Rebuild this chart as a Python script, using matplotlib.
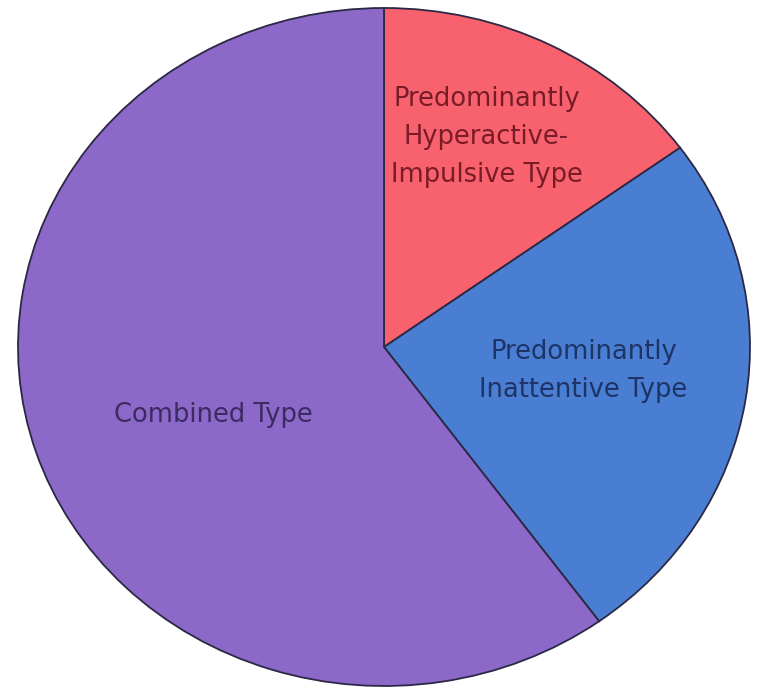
import matplotlib.pyplot as plt

labels = ['Predominantly\nHyperactive-\nImpulsive Type',
          'Predominantly\nInattentive Type',
          'Combined Type']
shares = [15, 25, 60]
colors = ['#F7626E', '#4A7ED2', '#8C68C8']
text_colors = ['#7A1B28', '#1E3466', '#3A2B63']
# label centres in pie units
label_pos = [(0.28, 0.62), (0.545, -0.07), (-0.465, -0.2)]

fig = plt.figure(figsize=(7.57, 6.88), dpi=100)
ax = fig.add_axes([18 / 757, 2 / 688, 732 / 757, 678 / 688])

wedges, texts = ax.pie(shares, labels=labels, colors=colors, startangle=90,
                       counterclock=False, labeldistance=0.5,
                       wedgeprops={'edgecolor': '#2B2845', 'linewidth': 1.3})
for t, c, p in zip(texts, text_colors, label_pos):
    t.set_position(p)
    t.set_ha('center')
    t.set_va('center')
    t.set_color(c)
    t.set_fontsize(18.5)
    t.set_family('DejaVu Sans')
    t.set_linespacing(1.6)

ax.set_aspect('auto')
ax.set_xlim(-1, 1)
ax.set_ylim(-1, 1)
ax.axis('off')

plt.savefig('out.png', dpi=100)
